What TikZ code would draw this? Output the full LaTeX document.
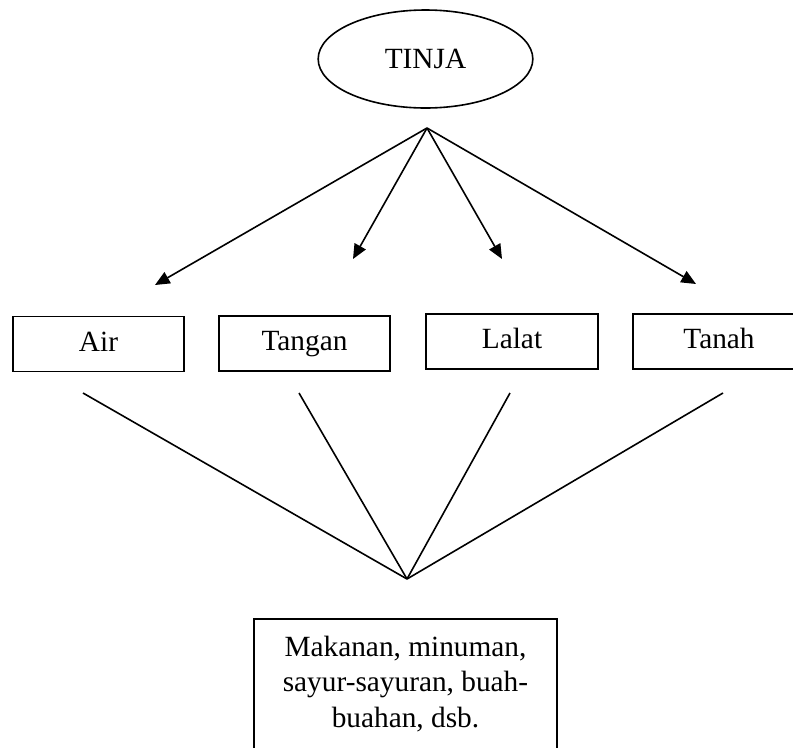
\documentclass[tikz,border=0pt]{standalone}
\usepackage{fontspec}
\setmainfont{Liberation Serif}
\usepackage{tikz}
\usetikzlibrary{arrows.meta}
\usetikzlibrary{shapes.geometric}

\begin{document}
\begin{tikzpicture}[
                x=0.75pt, y=-0.75pt,
                box/.style = {
                    draw,
                    rectangle,
                    line width = 1.2pt,
                    minimum width = #1,
                    minimum height = 41pt,
                    inner sep = 0pt,
                    text height = 15pt,
                    text depth = 4.5pt,
                    font = \fontsize{22}{27}\selectfont
                },
                box/.default = 128.5pt,
                link/.style = {
                    line width = 1.2pt
                },
                arrow/.style = {
                    line width = 1.2pt,
                    -{Triangle[length=11pt, width=9.5pt]}
                }
            ]
            \useasboundingbox (0,0) rectangle (793,747);
            % 
            \node[draw, ellipse, line width = 1.2pt, minimum width = 161pt, minimum height = 73.5pt,
                  inner sep = 0pt, font=\fontsize{22}{27}\selectfont] (tinja) at (425.5,59) {TINJA};
            \coordinate (src) at (427,128);
            % 
            \node[box] (air) at (98.5,344) {Air};
            \node[box] (tangan) at (304.5,343.5) {Tangan};
            \node[box=129pt] (lalat) at (512,341.5) {Lalat};
            \node[box=129pt] (tanah) at (719,341.5) {Tanah};
            % 
            \coordinate (tipair) at (155,285);
            \coordinate (tiptangan) at (353,259);
            \coordinate (tiplalat) at (502,259);
            \coordinate (tiptanah) at (696,284);
            % 
            \draw[arrow] (src) -- (tipair);
            \draw[arrow] (src) -- (tiptangan);
            \draw[arrow] (src) -- (tiplalat);
            \draw[arrow] (src) -- (tiptanah);
            % 
            \coordinate (endair) at (83,393);
            \coordinate (endtangan) at (299,393);
            \coordinate (endlalat) at (510,393);
            \coordinate (endtanah) at (723,393);
            \coordinate (meet) at (407,579);
            % 
            \draw[link] (endair) -- (meet);
            \draw[link] (endtangan) -- (meet);
            \draw[link] (endlalat) -- (meet);
            \draw[link] (endtanah) -- (meet);
            % 
            \node[draw, rectangle, line width = 1.2pt, minimum width = 227pt, minimum height = 97.5pt,
                  inner sep = 0pt, align = center, font=\fontsize{22}{26.7}\selectfont] (food) at (405.5,684)
                  {Makanan, minuman,\\ sayur-sayuran, buah-\\ buahan, dsb.};
            % 
        \end{tikzpicture}
\end{document}
